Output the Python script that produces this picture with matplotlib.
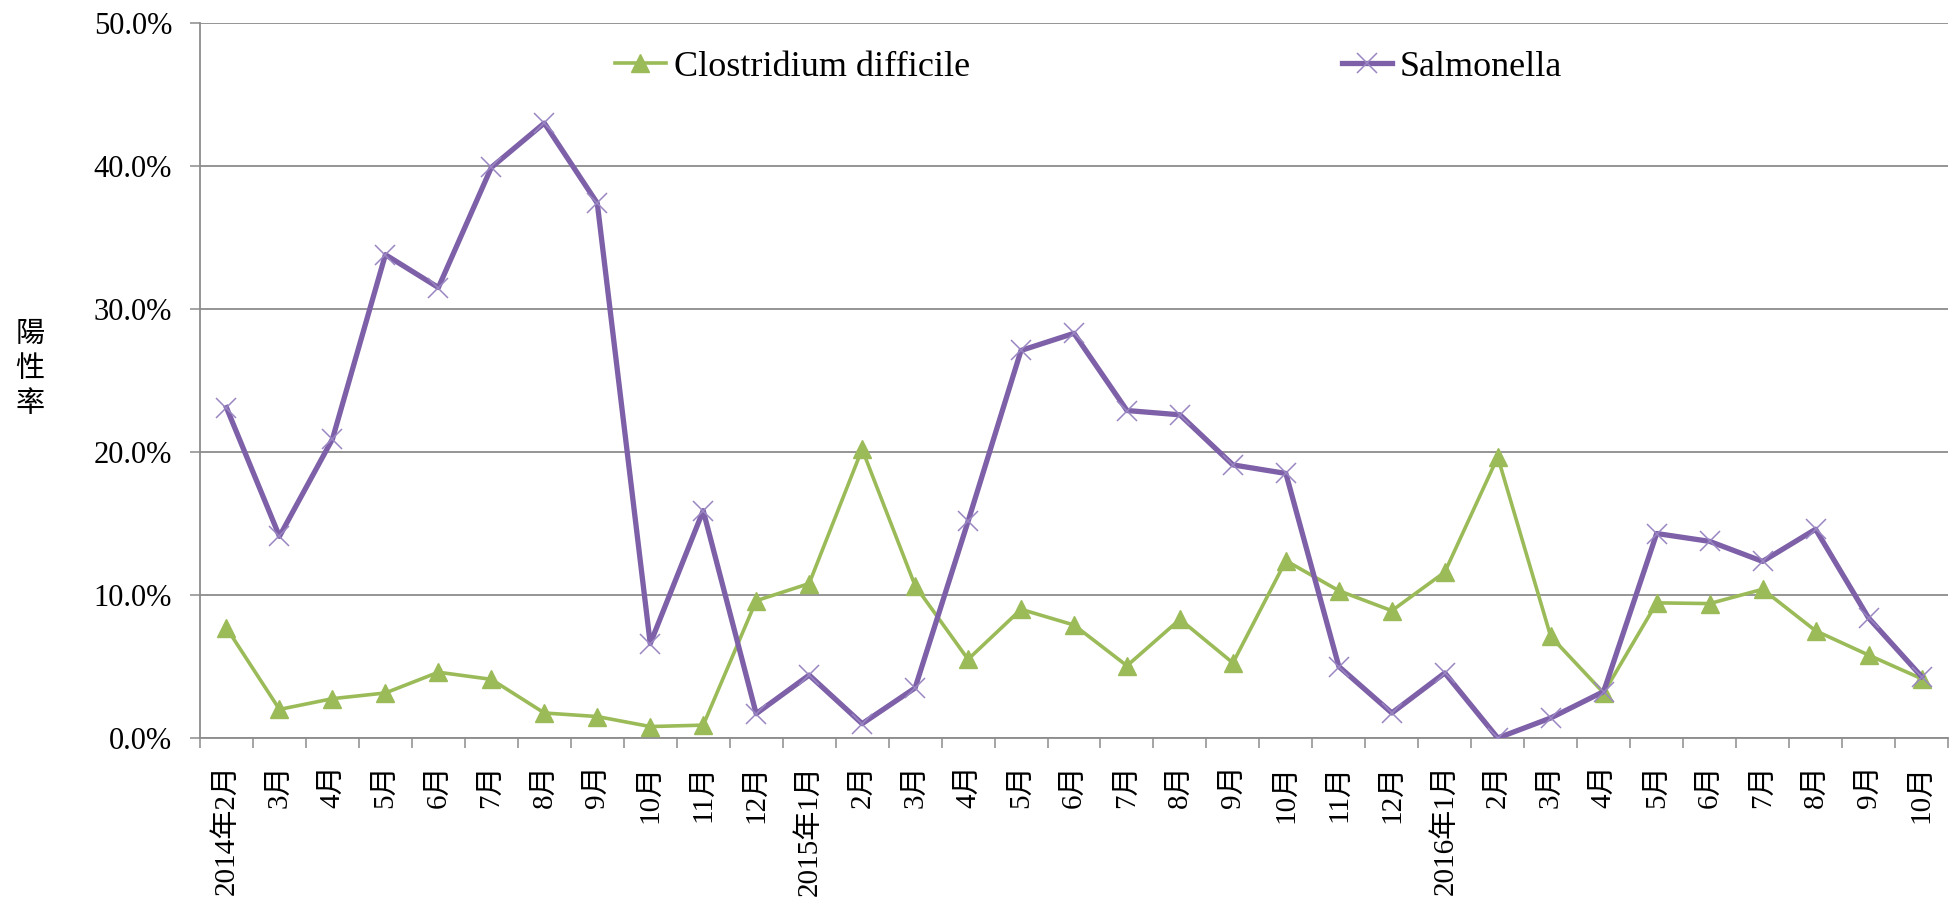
import numpy as np
import matplotlib
matplotlib.use('Agg')
import matplotlib.pyplot as plt
from matplotlib.ticker import FuncFormatter, FixedLocator

# monthly positive rates (%)
months = ['2014年2月', '3月', '4月', '5月', '6月', '7月', '8月', '9月', '10月', '11月', '12月',
          '2015年1月', '2月', '3月', '4月', '5月', '6月', '7月', '8月', '9月', '10月', '11月', '12月',
          '2016年1月', '2月', '3月', '4月', '5月', '6月', '7月', '8月', '9月', '10月']
clostridium = [7.7, 2.0, 2.75, 3.15, 4.6, 4.1, 1.75, 1.5, 0.8, 0.9, 9.6,
               10.8, 20.2, 10.65, 5.5, 9.0, 7.9, 5.05, 8.3, 5.25, 12.4, 10.3, 8.9,
               11.6, 19.65, 7.1, 3.15, 9.45, 9.4, 10.4, 7.5, 5.8, 4.15]
salmonella = [23.1, 14.1, 20.9, 33.8, 31.5, 39.9, 43.0, 37.4, 6.6, 15.9, 1.7,
              4.4, 1.0, 3.5, 15.15, 27.1, 28.3, 22.9, 22.6, 19.1, 18.5, 5.0, 1.75,
              4.55, 0.0, 1.4, 3.25, 14.3, 13.75, 12.35, 14.6, 8.4, 4.3]

serif = ['Liberation Serif', 'Noto Sans CJK TC']
green = '#9BBB59'
purple = '#7D60A8'
grid_c = '#8C8C8C'

fig = plt.figure(figsize=(19.55, 9.01), dpi=100)
ax = fig.add_axes([200 / 1955, 1 - 738 / 901, 1748 / 1955, 715 / 901])

x = np.arange(len(months))
ax.plot(x, clostridium, color=green, lw=2.6, marker='^', ms=13,
        mfc=green, mec=green, label='Clostridium difficile', zorder=3)
ax.plot(x, salmonella, color=purple, lw=3.8, marker='x', ms=15, mew=1.1,
        mec='#9A86C2', label='Salmonella', zorder=4)

ax.set_xlim(-0.5, len(months) - 0.5)
ax.set_ylim(0, 50)
ax.set_yticks(np.arange(0, 51, 10))
ax.yaxis.set_major_formatter(FuncFormatter(lambda v, p: f'{v:.1f}%'))
ax.yaxis.grid(True, color=grid_c, lw=1.3)
ax.set_axisbelow(True)

ax.set_xticks(x)
ax.set_xticklabels(months, rotation=90, family=serif, fontsize=21, va='top', ha='center')
ax.xaxis.set_minor_locator(FixedLocator(np.arange(-0.5, len(months), 1.0)))
ax.tick_params(axis='x', which='major', length=0, pad=19)
ax.tick_params(axis='x', which='minor', length=7, width=1.1, color=grid_c)
ax.tick_params(axis='y', length=7, width=1.1, color=grid_c, pad=13)
for lab in ax.get_yticklabels():
    lab.set_family(serif)
    lab.set_fontsize(22)

for s in ['top', 'right']:
    ax.spines[s].set_visible(False)
for s in ['left', 'bottom']:
    ax.spines[s].set_color(grid_c)
    ax.spines[s].set_linewidth(1.3)

fig.text(30 / 1955, 1 - 369 / 901, '陽\n性\n率', family=['Noto Sans CJK TC'],
         fontsize=21, ha='center', va='center', linespacing=1.2)

ax.legend(loc='center left', bbox_to_anchor=(615 / 1955, 1 - 67 / 901),
          bbox_transform=fig.transFigure, ncol=2, frameon=False,
          prop={'family': serif, 'size': 26}, handlelength=1.4,
          handletextpad=0.22, columnspacing=10.3, borderpad=0, borderaxespad=0)

fig.savefig('out.png', dpi=100)
